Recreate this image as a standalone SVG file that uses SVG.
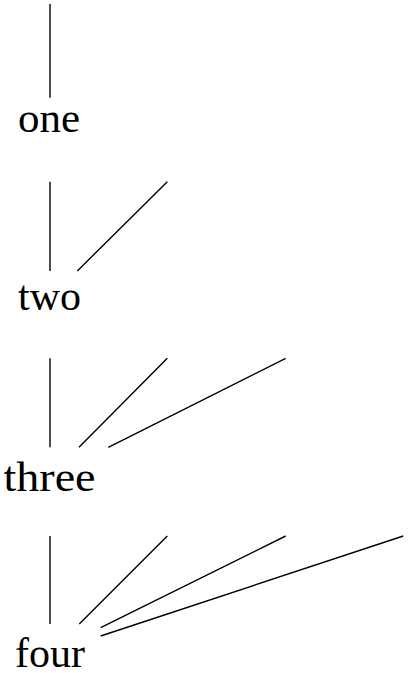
<svg xmlns="http://www.w3.org/2000/svg" width="409" height="673" viewBox="0 0 409 673">
<style>
.lbl{font-family:"Liberation Serif","DejaVu Serif",serif;font-size:42px;fill:#000;text-anchor:middle}
.edge{stroke:#000;stroke-width:1.4;fill:none}
</style>
<rect width="409" height="673" fill="#fff"/>
<g id="connectors">
<line class="edge" x1="50" y1="4" x2="50" y2="97.7"/>
<line class="edge" x1="50" y1="181.7" x2="50" y2="271"/>
<line class="edge" x1="77.3" y1="271" x2="167.3" y2="181.7"/>
<line class="edge" x1="50" y1="358.3" x2="50" y2="447.3"/>
<line class="edge" x1="79" y1="447.3" x2="167.3" y2="358.3"/>
<line class="edge" x1="108.3" y1="447.3" x2="285.7" y2="358.3"/>
<line class="edge" x1="50" y1="536" x2="50" y2="624"/>
<line class="edge" x1="79.3" y1="624" x2="167.3" y2="536"/>
<line class="edge" x1="100.7" y1="627.7" x2="285.7" y2="536"/>
<line class="edge" x1="100.7" y1="636" x2="403.3" y2="536"/>
</g>
<g id="node-one"><text class="lbl" x="49" y="131.7" textLength="62" lengthAdjust="spacingAndGlyphs">one</text></g>
<g id="node-two"><text class="lbl" x="49.5" y="309.5" textLength="63" lengthAdjust="spacingAndGlyphs">two</text></g>
<g id="node-three"><text class="lbl" x="49.5" y="491" textLength="92" lengthAdjust="spacingAndGlyphs">three</text></g>
<g id="node-four"><text class="lbl" x="50" y="667" textLength="70" lengthAdjust="spacingAndGlyphs">four</text></g>
</svg>
